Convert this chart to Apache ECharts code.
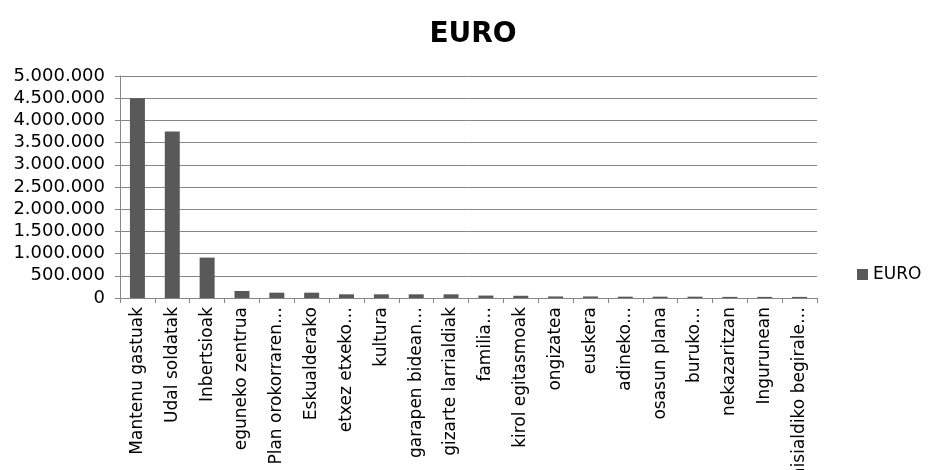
<!DOCTYPE html>
<html>
<head>
<meta charset="utf-8">
<script src="https://cdn.jsdelivr.net/npm/echarts@6/dist/echarts.min.js"></script>
<style>
html,body{margin:0;padding:0;background:#fff;}
#chart{width:932px;height:470px;}
</style>
</head>
<body>
<div id="chart"></div>
<script>
const categories = [
  "Mantenu gastuak", "Udal soldatak", "Inbertsioak", "eguneko zentrua",
  "Plan orokorraren\u2026", "Eskualderako", "etxez etxeko\u2026", "kultura",
  "garapen bidean\u2026", "gizarte larrialdiak", "familia\u2026", "kirol egitasmoak",
  "ongizatea", "euskera", "adineko\u2026", "osasun plana", "buruko\u2026",
  "nekazaritzan", "Ingurunean", "aisialdiko begirale\u2026"
];
const euroValues = [
  4500000, 3750000, 910000, 158000,
  120000, 120000, 83000, 83000,
  83000, 83000, 55000, 50000,
  35000, 35000, 30000, 30000, 30000,
  25000, 25000, 25000
];
const seriesName = "EURO";
const titleText = "EURO";

function fmt(v){
  return String(v).replace(/\B(?=(\d{3})+(?!\d))/g, ".");
}

const FONT = 'DejaVu Sans';
const GRID_COLOR = '#868686';

const chart = echarts.init(document.getElementById('chart'), null, {renderer:'canvas'});
chart.setOption({
  animation: false,
  backgroundColor: '#ffffff',
  title: {
    text: titleText,
    left: 468, top: 16,
    textAlign: 'center',
    textStyle: {fontFamily: FONT, fontWeight: 'bold', fontSize: 28, color: '#000'}
  },
  legend: {
    data: [seriesName],
    left: 852, top: 261,
    icon: 'rect', itemWidth: 11, itemHeight: 11, itemGap: 6,
    textStyle: {fontFamily: FONT, fontSize: 17, color: '#000'}
  },
  grid: {left: 120, top: 76, width: 697, height: 222, containLabel: false, outerBoundsMode: 'none'},
  xAxis: {
    type: 'category',
    data: categories,
    axisLine: {show: true, lineStyle: {color: GRID_COLOR, width: 1}},
    axisTick: {show: true, alignWithLabel: false, length: 5, lineStyle: {color: GRID_COLOR}},
    axisLabel: {interval: 0, rotate: 90, margin: 9, fontFamily: FONT, fontSize: 17, color: '#000'}
  },
  yAxis: [{
    type: 'value',
    position: 'left',
    min: 0, max: 5000000, interval: 500000,
    axisLine: {show: true, lineStyle: {color: GRID_COLOR, width: 1}},
    axisTick: {show: true, length: 5, lineStyle: {color: GRID_COLOR}},
    splitLine: {show: true, lineStyle: {color: GRID_COLOR, width: 1}},
    axisLabel: {formatter: fmt, margin: 15, fontFamily: FONT, fontSize: 18, color: '#000'}
  }, {
    type: 'value',
    position: 'left',
    offset: 0,
    min: 0, max: 5000000, interval: 500000,
    axisLine: {show: false},
    axisTick: {show: true, inside: true, length: 5, lineStyle: {color: GRID_COLOR}},
    splitLine: {show: false},
    axisLabel: {show: false}
  }],
  series: [{
    name: seriesName,
    type: 'bar',
    data: euroValues,
    barWidth: '43%',
    itemStyle: {color: '#595959'}
  }]
});
</script>
</body>
</html>
